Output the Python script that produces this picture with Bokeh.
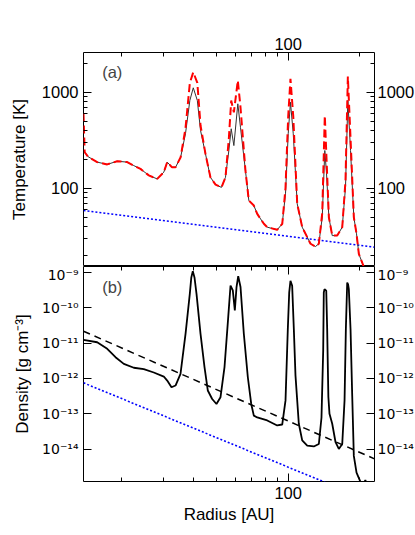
from bokeh.plotting import figure
from bokeh.layouts import column
from bokeh.models import Range1d, LogAxis, FixedTicker, Label, CustomJSTickFormatter
from bokeh.embed import file_html
from bokeh.resources import INLINE

# ---------------- data ----------------
# panel (a): temperature profiles
r_T = [13.79, 13.95, 14.38, 15.74, 17.35, 19.10, 21.05, 22.44, 23.94, 25.94, 28.14, 30.0,
       31.0, 32.5, 33.6, 35.3, 37.0, 38.6, 39.9, 41.5, 42.8, 44.9, 47.1, 49.5, 52.4, 54.5,
       56.3, 57.6, 59.1, 61.4, 63.0, 66.1, 68.3, 71.7, 74.1, 79.0, 81.6, 89.9, 94.4, 97.4,
       100.0, 102.2, 105.0, 109.1, 114.5, 124.1, 130.2, 134.5, 139.0, 142.5, 144.9, 148.2,
       153.1, 160.7, 168.7, 174.1, 178.1, 182.8, 188.7, 193.7, 198.1, 206.7, 210.0]
T_gas = [237, 237, 214, 187, 177, 191, 187, 172, 159, 136, 125, 147,
         187, 165, 165, 210, 369, 820, 1111, 820, 400, 228, 130, 109, 102, 130,
         247, 416, 278, 757, 431, 153, 74.5, 66, 54, 42.6, 39.3, 36.9, 42.6, 87.4,
         369, 787, 369, 68.8, 39.3, 26.4, 24.7, 26.4, 49.9, 247, 141, 49.9,
         32.1, 32.1, 39.3, 102, 820, 247, 49.9, 33.5, 20.7, 15.7, 13.0]
T_dust = [600, 237, 214, 187, 177, 191, 187, 172, 159, 136, 125, 147,
          187, 165, 165, 210, 420, 1250, 1615, 1250, 450, 228, 130, 109, 102, 130,
          330, 819, 617, 1325, 700, 153, 74.5, 66, 54, 42.6, 39.3, 36.9, 42.6, 100,
          560, 1380, 560, 68.8, 39.3, 26.4, 24.7, 26.4, 55, 571, 200, 49.9,
          32.1, 32.1, 39.3, 120, 1455, 330, 49.9, 33.5, 20.7, 15.7, 13.0]
r_line = [13.79, 230.5]
T_blue = [58.6, 24.3]

# panel (b): density profiles
r_rho = [13.79, 15.74, 17.35, 18.80, 20.37, 22.44, 24.72, 27.23, 30.00, 31.00, 32.32, 33.60,
         35.26, 37.02, 38.58, 39.15, 39.72, 40.37, 41.17, 42.80, 44.48, 45.92, 47.91, 49.94,
         51.93, 53.98, 55.96, 57.22, 58.50, 59.65, 60.64, 61.64, 63.03, 65.08, 67.65, 69.91,
         71.69, 74.09, 81.61, 89.91, 94.36, 97.43, 99.61, 100.97, 102.2, 103.9, 105.6, 107.3,
         110.8, 114.5, 120.2, 128.1, 134.5, 138.0, 140.3, 141.1, 142.1, 144.5, 145.8, 147.5,
         149.1, 153.1, 158.1, 163.2, 168.7, 172.5, 174.7, 177.0, 178.5, 179.8, 182.8, 185.8,
         188.7, 193.7, 200.0, 205.0, 211.0, 216.0]
rho = [1.23e-11, 1.05e-11, 6.85e-12, 3.97e-12, 2.58e-12, 2.0e-12, 1.82e-12, 1.47e-12, 1.13e-12,
       8.7e-13, 5.64e-13, 6.3e-13, 1.35e-12, 1.82e-11, 2.45e-10, 7.1e-10, 1.07e-9, 7.1e-10,
       2.45e-10, 1.82e-11, 2.09e-12, 4.57e-13, 2.63e-13, 1.9e-13, 2.95e-13, 2.09e-12, 5.37e-11,
       4.2e-10, 3.04e-10, 8.3e-11, 3.8e-10, 7.7e-10, 3.8e-10, 1.82e-11, 1.08e-12, 1.9e-13,
       8.9e-14, 7.9e-14, 6.5e-14, 4.7e-14, 5.0e-14, 2.4e-13, 2.45e-11, 2.67e-10, 5.7e-10,
       4.13e-10, 2.45e-11, 1.2e-12, 5.25e-14, 1.78e-14, 1.26e-14, 1.2e-14, 1.41e-14, 7.9e-14,
       6.2e-12, 2.67e-10, 3.3e-10, 3.0e-10, 2.45e-11, 3.0e-13, 1.0e-13, 5.25e-14, 1.58e-14,
       1.02e-14, 1.41e-14, 2.4e-13, 2.45e-11, 5.1e-10, 4.5e-10, 3.3e-10, 2.45e-11, 3.2e-13,
       6.5e-15, 2.2e-15, 1.32e-15, 9e-16, 1.35e-15, 8e-16]
rho_dashed = [2.15e-11, 5.36e-15]
rho_blue = [7.5e-13, 3.1e-16]

# ticks and labels
x_major = [100]
x_minor = [20, 30, 40, 50, 60, 70, 80, 90, 200]
x_labels = ["100"]
T_major = [100, 1000]
T_minor = [20, 30, 40, 50, 60, 70, 80, 90, 200, 300, 400, 500, 600, 700, 800, 900, 2000]
T_labels = ["100", "1000"]
rho_major = [1e-14, 1e-13, 1e-12, 1e-11, 1e-10, 1e-9]
rho_labels = ["10\u207b\u00b9\u2074", "10\u207b\u00b9\u00b3", "10\u207b\u00b9\u00b2",
              "10\u207b\u00b9\u00b9", "10\u207b\u00b9\u2070", "10\u207b\u2079"]

FONT = "Liberation Sans"
SUPFONT = "DejaVu Sans"
TICK_FS = "16.5px"
RHO_FS = "14px"


def fmt(vals, labs):
    return CustomJSTickFormatter(args=dict(vals=vals, labs=labs), code="""
        let best = ""; let bd = Infinity;
        for (let i = 0; i < vals.length; i++) {
            const d = Math.abs(Math.log(tick) - Math.log(vals[i]));
            if (d < bd) { bd = d; best = labs[i]; }
        }
        return bd < 1e-6 ? best : "";
    """)


def style(ax, major, minor, labs, show=True, standoff=5, font=FONT, fs=TICK_FS):
    ax.ticker = FixedTicker(ticks=major, minor_ticks=minor)
    ax.formatter = fmt(major, labs) if show else CustomJSTickFormatter(code='return "";')
    ax.major_tick_in = 8
    ax.major_tick_out = 0
    ax.minor_tick_in = 4
    ax.minor_tick_out = 0
    ax.axis_line_color = None
    ax.major_tick_line_color = "black"
    ax.minor_tick_line_color = "black"
    ax.major_label_text_font = font
    ax.major_label_text_font_size = fs if show else "0px"
    ax.major_label_text_color = "black"
    ax.major_label_standoff = standoff if show else 0
    ax.axis_label_text_font = FONT
    ax.axis_label_text_font_size = "17px"
    ax.axis_label_text_font_style = "normal"
    ax.axis_label_text_color = "black"


xr1 = Range1d(13.79, 230.5)
xr2 = Range1d(13.79, 230.5)
FIG_W = 418   # 83 (left) + 291 (frame) + 44 (right)

# ---------------- panel (a) ----------------
p1 = figure(width=FIG_W, height=266, x_axis_type="log", y_axis_type="log",
            x_range=xr1, y_range=Range1d(15.3, 2591),
            x_axis_location="above", output_backend="svg", toolbar_location=None,
            min_border_left=83, min_border_right=44, min_border_top=52, min_border_bottom=0)
p1.grid.visible = False
p1.outline_line_color = "black"
p1.outline_line_width = 1
style(p1.xaxis[0], x_major, x_minor, x_labels, standoff=3)
style(p1.yaxis[0], T_major, T_minor, T_labels)
p1.yaxis[0].axis_label = "Temperature [K]"
p1.yaxis[0].axis_label_standoff = 10
ra1 = LogAxis()
style(ra1, T_major, T_minor, T_labels, standoff=3)
p1.add_layout(ra1, "right")

p1.line(r_line, T_blue, line_color="#0000ff", line_width=1.6, line_dash="2 2")
p1.line(r_T, T_gas, line_color="#333333", line_width=1)
p1.line(r_T, T_dust, line_color="#ff0000", line_width=2, line_dash="8 4")
p1.add_layout(Label(x=18.7, y=194.5, x_units="screen", y_units="screen", text="(a)",
                    text_font=FONT, text_font_size="16.5px", text_baseline="middle"))

# ---------------- panel (b) ----------------
p2 = figure(width=FIG_W, height=264, x_axis_type="log", y_axis_type="log",
            x_range=xr2, y_range=Range1d(1.23e-15, 1.445e-9),
            x_axis_location="below", output_backend="svg", toolbar_location=None,
            min_border_left=83, min_border_right=44, min_border_top=0, min_border_bottom=49)
p2.grid.visible = False
p2.outline_line_color = "black"
p2.outline_line_width = 1
style(p2.xaxis[0], x_major, x_minor, x_labels)
p2.xaxis[0].axis_label = "Radius [AU]"
p2.xaxis[0].axis_label_standoff = 3
style(p2.yaxis[0], rho_major, [], rho_labels, font=SUPFONT, fs=RHO_FS)
p2.yaxis[0].axis_label = "Density [g cm\u207b\u00b3]"
p2.yaxis[0].axis_label_standoff = 7
ra2 = LogAxis()
style(ra2, rho_major, [], rho_labels, standoff=3, font=SUPFONT, fs=RHO_FS)
p2.add_layout(ra2, "right")
ta2 = LogAxis()
style(ta2, x_major, x_minor, x_labels, show=False)
p2.add_layout(ta2, "above")

p2.line(r_line, rho_blue, line_color="#0000ff", line_width=1.6, line_dash="2 2")
p2.line(r_line, rho_dashed, line_color="black", line_width=1.5, line_dash="7 5")
p2.line(r_rho, rho, line_color="black", line_width=1.8)
p2.add_layout(Label(x=18.7, y=194.3, x_units="screen", y_units="screen", text="(b)",
                    text_font=FONT, text_font_size="16.5px", text_baseline="middle"))

layout = column(p1, p2)
open("out.html", "w").write(file_html(layout, INLINE))
